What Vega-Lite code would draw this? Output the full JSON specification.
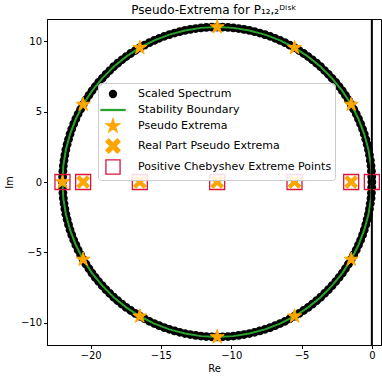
{
  "$schema": "https://vega.github.io/schema/vega-lite/v6.json",
  "width": 334,
  "height": 326,
  "autosize": {"type": "none"},
  "padding": {"left": 47, "top": 19, "right": 1, "bottom": 35},
  "title": {"text": "Pseudo-Extrema for P₁₂,₂ᴰⁱˢᵏ", "fontSize": 12, "fontWeight": "normal", "font": "DejaVu Sans", "offset": 1, "color": "black"},
  "config": {
    "font": "DejaVu Sans",
    "view": {"stroke": "black", "strokeWidth": 1},
    "axis": {"labelFont": "DejaVu Sans", "titleFont": "DejaVu Sans", "labelFontSize": 10, "titleFontSize": 10, "titleFontWeight": "normal", "labelColor": "black", "titleColor": "black", "domainColor": "black", "tickColor": "black", "tickSize": 3.5, "gridColor": "#dddddd", "gridWidth": 1, "labelPadding": 2},
    "legend": {"orient": "none", "legendX": 51, "legendY": 64, "padding": 3, "fillColor": "rgba(255,255,255,0.85)", "strokeColor": "#cccccc", "cornerRadius": 3, "labelFont": "DejaVu Sans", "labelFontSize": 11, "labelColor": "black", "symbolSize": 200, "symbolOffset": 4, "labelOffset": 17, "rowPadding": 1, "symbolStrokeWidth": 1.3, "labelLimit": 300}
  },
  "datasets": {
    "spectrum": [
      {"series":"Scaled Spectrum","x":0,"y":0},{"series":"Scaled Spectrum","x":-0.01,"y":0.38},{"series":"Scaled Spectrum","x":-0.03,"y":0.77},{"series":"Scaled Spectrum","x":-0.06,"y":1.15},{"series":"Scaled Spectrum","x":-0.11,"y":1.53},{"series":"Scaled Spectrum","x":-0.17,"y":1.91},{"series":"Scaled Spectrum","x":-0.24,"y":2.29},{"series":"Scaled Spectrum","x":-0.33,"y":2.66},{"series":"Scaled Spectrum","x":-0.43,"y":3.03},{"series":"Scaled Spectrum","x":-0.54,"y":3.4},{"series":"Scaled Spectrum","x":-0.66,"y":3.76},{"series":"Scaled Spectrum","x":-0.8,"y":4.12},{"series":"Scaled Spectrum","x":-0.95,"y":4.47},{"series":"Scaled Spectrum","x":-1.11,"y":4.82},{"series":"Scaled Spectrum","x":-1.29,"y":5.16},{"series":"Scaled Spectrum","x":-1.47,"y":5.5},{"series":"Scaled Spectrum","x":-1.67,"y":5.83},{"series":"Scaled Spectrum","x":-1.88,"y":6.15},{"series":"Scaled Spectrum","x":-2.1,"y":6.47},{"series":"Scaled Spectrum","x":-2.33,"y":6.77},{"series":"Scaled Spectrum","x":-2.57,"y":7.07},{"series":"Scaled Spectrum","x":-2.83,"y":7.36},{"series":"Scaled Spectrum","x":-3.09,"y":7.64},{"series":"Scaled Spectrum","x":-3.36,"y":7.91},{"series":"Scaled Spectrum","x":-3.64,"y":8.18},{"series":"Scaled Spectrum","x":-3.93,"y":8.43},{"series":"Scaled Spectrum","x":-4.23,"y":8.67},{"series":"Scaled Spectrum","x":-4.53,"y":8.9},{"series":"Scaled Spectrum","x":-4.85,"y":9.12},{"series":"Scaled Spectrum","x":-5.17,"y":9.33},{"series":"Scaled Spectrum","x":-5.5,"y":9.53},{"series":"Scaled Spectrum","x":-5.84,"y":9.71},{"series":"Scaled Spectrum","x":-6.18,"y":9.89},{"series":"Scaled Spectrum","x":-6.53,"y":10.05},{"series":"Scaled Spectrum","x":-6.88,"y":10.2},{"series":"Scaled Spectrum","x":-7.24,"y":10.34},{"series":"Scaled Spectrum","x":-7.6,"y":10.46},{"series":"Scaled Spectrum","x":-7.97,"y":10.57},{"series":"Scaled Spectrum","x":-8.34,"y":10.67},{"series":"Scaled Spectrum","x":-8.71,"y":10.76},{"series":"Scaled Spectrum","x":-9.09,"y":10.83},{"series":"Scaled Spectrum","x":-9.47,"y":10.89},{"series":"Scaled Spectrum","x":-9.85,"y":10.94},{"series":"Scaled Spectrum","x":-10.23,"y":10.97},{"series":"Scaled Spectrum","x":-10.62,"y":10.99},
      {"series":"Scaled Spectrum","x":-11,"y":11},{"series":"Scaled Spectrum","x":-11.38,"y":10.99},{"series":"Scaled Spectrum","x":-11.77,"y":10.97},{"series":"Scaled Spectrum","x":-12.15,"y":10.94},{"series":"Scaled Spectrum","x":-12.53,"y":10.89},{"series":"Scaled Spectrum","x":-12.91,"y":10.83},{"series":"Scaled Spectrum","x":-13.29,"y":10.76},{"series":"Scaled Spectrum","x":-13.66,"y":10.67},{"series":"Scaled Spectrum","x":-14.03,"y":10.57},{"series":"Scaled Spectrum","x":-14.4,"y":10.46},{"series":"Scaled Spectrum","x":-14.76,"y":10.34},{"series":"Scaled Spectrum","x":-15.12,"y":10.2},{"series":"Scaled Spectrum","x":-15.47,"y":10.05},{"series":"Scaled Spectrum","x":-15.82,"y":9.89},{"series":"Scaled Spectrum","x":-16.16,"y":9.71},{"series":"Scaled Spectrum","x":-16.5,"y":9.53},{"series":"Scaled Spectrum","x":-16.83,"y":9.33},{"series":"Scaled Spectrum","x":-17.15,"y":9.12},{"series":"Scaled Spectrum","x":-17.47,"y":8.9},{"series":"Scaled Spectrum","x":-17.77,"y":8.67},{"series":"Scaled Spectrum","x":-18.07,"y":8.43},{"series":"Scaled Spectrum","x":-18.36,"y":8.18},{"series":"Scaled Spectrum","x":-18.64,"y":7.91},{"series":"Scaled Spectrum","x":-18.91,"y":7.64},{"series":"Scaled Spectrum","x":-19.17,"y":7.36},{"series":"Scaled Spectrum","x":-19.43,"y":7.07},{"series":"Scaled Spectrum","x":-19.67,"y":6.77},{"series":"Scaled Spectrum","x":-19.9,"y":6.47},{"series":"Scaled Spectrum","x":-20.12,"y":6.15},{"series":"Scaled Spectrum","x":-20.33,"y":5.83},{"series":"Scaled Spectrum","x":-20.53,"y":5.5},{"series":"Scaled Spectrum","x":-20.71,"y":5.16},{"series":"Scaled Spectrum","x":-20.89,"y":4.82},{"series":"Scaled Spectrum","x":-21.05,"y":4.47},{"series":"Scaled Spectrum","x":-21.2,"y":4.12},{"series":"Scaled Spectrum","x":-21.34,"y":3.76},{"series":"Scaled Spectrum","x":-21.46,"y":3.4},{"series":"Scaled Spectrum","x":-21.57,"y":3.03},{"series":"Scaled Spectrum","x":-21.67,"y":2.66},{"series":"Scaled Spectrum","x":-21.76,"y":2.29},{"series":"Scaled Spectrum","x":-21.83,"y":1.91},{"series":"Scaled Spectrum","x":-21.89,"y":1.53},{"series":"Scaled Spectrum","x":-21.94,"y":1.15},{"series":"Scaled Spectrum","x":-21.97,"y":0.77},{"series":"Scaled Spectrum","x":-21.99,"y":0.38},
      {"series":"Scaled Spectrum","x":-22,"y":0},
      {"series":"Scaled Spectrum","x":-0.01,"y":-0.38},{"series":"Scaled Spectrum","x":-0.03,"y":-0.77},{"series":"Scaled Spectrum","x":-0.06,"y":-1.15},{"series":"Scaled Spectrum","x":-0.11,"y":-1.53},{"series":"Scaled Spectrum","x":-0.17,"y":-1.91},{"series":"Scaled Spectrum","x":-0.24,"y":-2.29},{"series":"Scaled Spectrum","x":-0.33,"y":-2.66},{"series":"Scaled Spectrum","x":-0.43,"y":-3.03},{"series":"Scaled Spectrum","x":-0.54,"y":-3.4},{"series":"Scaled Spectrum","x":-0.66,"y":-3.76},{"series":"Scaled Spectrum","x":-0.8,"y":-4.12},{"series":"Scaled Spectrum","x":-0.95,"y":-4.47},{"series":"Scaled Spectrum","x":-1.11,"y":-4.82},{"series":"Scaled Spectrum","x":-1.29,"y":-5.16},{"series":"Scaled Spectrum","x":-1.47,"y":-5.5},{"series":"Scaled Spectrum","x":-1.67,"y":-5.83},{"series":"Scaled Spectrum","x":-1.88,"y":-6.15},{"series":"Scaled Spectrum","x":-2.1,"y":-6.47},{"series":"Scaled Spectrum","x":-2.33,"y":-6.77},{"series":"Scaled Spectrum","x":-2.57,"y":-7.07},{"series":"Scaled Spectrum","x":-2.83,"y":-7.36},{"series":"Scaled Spectrum","x":-3.09,"y":-7.64},{"series":"Scaled Spectrum","x":-3.36,"y":-7.91},{"series":"Scaled Spectrum","x":-3.64,"y":-8.18},{"series":"Scaled Spectrum","x":-3.93,"y":-8.43},{"series":"Scaled Spectrum","x":-4.23,"y":-8.67},{"series":"Scaled Spectrum","x":-4.53,"y":-8.9},{"series":"Scaled Spectrum","x":-4.85,"y":-9.12},{"series":"Scaled Spectrum","x":-5.17,"y":-9.33},{"series":"Scaled Spectrum","x":-5.5,"y":-9.53},{"series":"Scaled Spectrum","x":-5.84,"y":-9.71},{"series":"Scaled Spectrum","x":-6.18,"y":-9.89},{"series":"Scaled Spectrum","x":-6.53,"y":-10.05},{"series":"Scaled Spectrum","x":-6.88,"y":-10.2},{"series":"Scaled Spectrum","x":-7.24,"y":-10.34},{"series":"Scaled Spectrum","x":-7.6,"y":-10.46},{"series":"Scaled Spectrum","x":-7.97,"y":-10.57},{"series":"Scaled Spectrum","x":-8.34,"y":-10.67},{"series":"Scaled Spectrum","x":-8.71,"y":-10.76},{"series":"Scaled Spectrum","x":-9.09,"y":-10.83},{"series":"Scaled Spectrum","x":-9.47,"y":-10.89},{"series":"Scaled Spectrum","x":-9.85,"y":-10.94},{"series":"Scaled Spectrum","x":-10.23,"y":-10.97},{"series":"Scaled Spectrum","x":-10.62,"y":-10.99},
      {"series":"Scaled Spectrum","x":-11,"y":-11},{"series":"Scaled Spectrum","x":-11.38,"y":-10.99},{"series":"Scaled Spectrum","x":-11.77,"y":-10.97},{"series":"Scaled Spectrum","x":-12.15,"y":-10.94},{"series":"Scaled Spectrum","x":-12.53,"y":-10.89},{"series":"Scaled Spectrum","x":-12.91,"y":-10.83},{"series":"Scaled Spectrum","x":-13.29,"y":-10.76},{"series":"Scaled Spectrum","x":-13.66,"y":-10.67},{"series":"Scaled Spectrum","x":-14.03,"y":-10.57},{"series":"Scaled Spectrum","x":-14.4,"y":-10.46},{"series":"Scaled Spectrum","x":-14.76,"y":-10.34},{"series":"Scaled Spectrum","x":-15.12,"y":-10.2},{"series":"Scaled Spectrum","x":-15.47,"y":-10.05},{"series":"Scaled Spectrum","x":-15.82,"y":-9.89},{"series":"Scaled Spectrum","x":-16.16,"y":-9.71},{"series":"Scaled Spectrum","x":-16.5,"y":-9.53},{"series":"Scaled Spectrum","x":-16.83,"y":-9.33},{"series":"Scaled Spectrum","x":-17.15,"y":-9.12},{"series":"Scaled Spectrum","x":-17.47,"y":-8.9},{"series":"Scaled Spectrum","x":-17.77,"y":-8.67},{"series":"Scaled Spectrum","x":-18.07,"y":-8.43},{"series":"Scaled Spectrum","x":-18.36,"y":-8.18},{"series":"Scaled Spectrum","x":-18.64,"y":-7.91},{"series":"Scaled Spectrum","x":-18.91,"y":-7.64},{"series":"Scaled Spectrum","x":-19.17,"y":-7.36},{"series":"Scaled Spectrum","x":-19.43,"y":-7.07},{"series":"Scaled Spectrum","x":-19.67,"y":-6.77},{"series":"Scaled Spectrum","x":-19.9,"y":-6.47},{"series":"Scaled Spectrum","x":-20.12,"y":-6.15},{"series":"Scaled Spectrum","x":-20.33,"y":-5.83},{"series":"Scaled Spectrum","x":-20.53,"y":-5.5},{"series":"Scaled Spectrum","x":-20.71,"y":-5.16},{"series":"Scaled Spectrum","x":-20.89,"y":-4.82},{"series":"Scaled Spectrum","x":-21.05,"y":-4.47},{"series":"Scaled Spectrum","x":-21.2,"y":-4.12},{"series":"Scaled Spectrum","x":-21.34,"y":-3.76},{"series":"Scaled Spectrum","x":-21.46,"y":-3.4},{"series":"Scaled Spectrum","x":-21.57,"y":-3.03},{"series":"Scaled Spectrum","x":-21.67,"y":-2.66},{"series":"Scaled Spectrum","x":-21.76,"y":-2.29},{"series":"Scaled Spectrum","x":-21.83,"y":-1.91},{"series":"Scaled Spectrum","x":-21.89,"y":-1.53},{"series":"Scaled Spectrum","x":-21.94,"y":-1.15},{"series":"Scaled Spectrum","x":-21.97,"y":-0.77},{"series":"Scaled Spectrum","x":-21.99,"y":-0.38}
    ],
    "boundary": [
      {"series":"Stability Boundary","t":0,"x":0,"y":0},{"series":"Stability Boundary","t":6,"x":-0.06,"y":1.15},{"series":"Stability Boundary","t":12,"x":-0.24,"y":2.29},{"series":"Stability Boundary","t":18,"x":-0.54,"y":3.4},{"series":"Stability Boundary","t":24,"x":-0.95,"y":4.47},{"series":"Stability Boundary","t":30,"x":-1.47,"y":5.5},{"series":"Stability Boundary","t":36,"x":-2.1,"y":6.47},{"series":"Stability Boundary","t":42,"x":-2.83,"y":7.36},{"series":"Stability Boundary","t":48,"x":-3.64,"y":8.18},{"series":"Stability Boundary","t":54,"x":-4.53,"y":8.9},{"series":"Stability Boundary","t":60,"x":-5.5,"y":9.53},{"series":"Stability Boundary","t":66,"x":-6.53,"y":10.05},{"series":"Stability Boundary","t":72,"x":-7.6,"y":10.46},{"series":"Stability Boundary","t":78,"x":-8.71,"y":10.76},{"series":"Stability Boundary","t":84,"x":-9.85,"y":10.94},{"series":"Stability Boundary","t":90,"x":-11,"y":11},{"series":"Stability Boundary","t":96,"x":-12.15,"y":10.94},{"series":"Stability Boundary","t":102,"x":-13.29,"y":10.76},{"series":"Stability Boundary","t":108,"x":-14.4,"y":10.46},{"series":"Stability Boundary","t":114,"x":-15.47,"y":10.05},{"series":"Stability Boundary","t":120,"x":-16.5,"y":9.53},{"series":"Stability Boundary","t":126,"x":-17.47,"y":8.9},{"series":"Stability Boundary","t":132,"x":-18.36,"y":8.18},{"series":"Stability Boundary","t":138,"x":-19.17,"y":7.36},{"series":"Stability Boundary","t":144,"x":-19.9,"y":6.47},{"series":"Stability Boundary","t":150,"x":-20.53,"y":5.5},{"series":"Stability Boundary","t":156,"x":-21.05,"y":4.47},{"series":"Stability Boundary","t":162,"x":-21.46,"y":3.4},{"series":"Stability Boundary","t":168,"x":-21.76,"y":2.29},{"series":"Stability Boundary","t":174,"x":-21.94,"y":1.15},{"series":"Stability Boundary","t":180,"x":-22,"y":0},{"series":"Stability Boundary","t":186,"x":-21.94,"y":-1.15},{"series":"Stability Boundary","t":192,"x":-21.76,"y":-2.29},{"series":"Stability Boundary","t":198,"x":-21.46,"y":-3.4},{"series":"Stability Boundary","t":204,"x":-21.05,"y":-4.47},{"series":"Stability Boundary","t":210,"x":-20.53,"y":-5.5},{"series":"Stability Boundary","t":216,"x":-19.9,"y":-6.47},{"series":"Stability Boundary","t":222,"x":-19.17,"y":-7.36},{"series":"Stability Boundary","t":228,"x":-18.36,"y":-8.18},{"series":"Stability Boundary","t":234,"x":-17.47,"y":-8.9},{"series":"Stability Boundary","t":240,"x":-16.5,"y":-9.53},{"series":"Stability Boundary","t":246,"x":-15.47,"y":-10.05},{"series":"Stability Boundary","t":252,"x":-14.4,"y":-10.46},{"series":"Stability Boundary","t":258,"x":-13.29,"y":-10.76},{"series":"Stability Boundary","t":264,"x":-12.15,"y":-10.94},{"series":"Stability Boundary","t":270,"x":-11,"y":-11},{"series":"Stability Boundary","t":276,"x":-9.85,"y":-10.94},{"series":"Stability Boundary","t":282,"x":-8.71,"y":-10.76},{"series":"Stability Boundary","t":288,"x":-7.6,"y":-10.46},{"series":"Stability Boundary","t":294,"x":-6.53,"y":-10.05},{"series":"Stability Boundary","t":300,"x":-5.5,"y":-9.53},{"series":"Stability Boundary","t":306,"x":-4.53,"y":-8.9},{"series":"Stability Boundary","t":312,"x":-3.64,"y":-8.18},{"series":"Stability Boundary","t":318,"x":-2.83,"y":-7.36},{"series":"Stability Boundary","t":324,"x":-2.1,"y":-6.47},{"series":"Stability Boundary","t":330,"x":-1.47,"y":-5.5},{"series":"Stability Boundary","t":336,"x":-0.95,"y":-4.47},{"series":"Stability Boundary","t":342,"x":-0.54,"y":-3.4},{"series":"Stability Boundary","t":348,"x":-0.24,"y":-2.29},{"series":"Stability Boundary","t":354,"x":-0.06,"y":-1.15},{"series":"Stability Boundary","t":360,"x":0,"y":0}
    ],
    "stars": [
      {"series":"Pseudo Extrema","x":-1.47,"y":5.5},{"series":"Pseudo Extrema","x":-5.5,"y":9.53},{"series":"Pseudo Extrema","x":-11,"y":11},{"series":"Pseudo Extrema","x":-16.5,"y":9.53},{"series":"Pseudo Extrema","x":-20.53,"y":5.5},{"series":"Pseudo Extrema","x":-22,"y":0},{"series":"Pseudo Extrema","x":-20.53,"y":-5.5},{"series":"Pseudo Extrema","x":-16.5,"y":-9.53},{"series":"Pseudo Extrema","x":-11,"y":-11},{"series":"Pseudo Extrema","x":-5.5,"y":-9.53},{"series":"Pseudo Extrema","x":-1.47,"y":-5.5}
    ],
    "realpart": [
      {"series":"Real Part Pseudo Extrema","x":-1.47,"y":0},{"series":"Real Part Pseudo Extrema","x":-5.5,"y":0},{"series":"Real Part Pseudo Extrema","x":-11,"y":0},{"series":"Real Part Pseudo Extrema","x":-16.5,"y":0},{"series":"Real Part Pseudo Extrema","x":-20.53,"y":0}
    ],
    "cheb": [
      {"series":"Positive Chebyshev Extreme Points","x":0,"y":0},{"series":"Positive Chebyshev Extreme Points","x":-1.47,"y":0},{"series":"Positive Chebyshev Extreme Points","x":-5.5,"y":0},{"series":"Positive Chebyshev Extreme Points","x":-11,"y":0},{"series":"Positive Chebyshev Extreme Points","x":-16.5,"y":0},{"series":"Positive Chebyshev Extreme Points","x":-20.53,"y":0},{"series":"Positive Chebyshev Extreme Points","x":-22,"y":0}
    ]
  },
  "layer": [
    {
      "data": {"values": [{}]},
      "mark": {"type": "rule", "color": "black", "strokeWidth": 1.3},
      "encoding": {
        "y": {"datum": 0, "type": "quantitative", "scale": {"domain": [-11.57, 11.57], "nice": false, "zero": false}, "axis": {"title": "Im", "values": [-10, -5, 0, 5, 10], "titlePadding": 6}},
        "x": {"datum": 0, "type": "quantitative", "scale": {"domain": [-23.1, 0.65], "nice": false, "zero": false}, "axis": {"title": "Re", "values": [-20, -15, -10, -5, 0], "titlePadding": 3}}
      }
    },
    {
      "data": {"name": "spectrum"},
      "mark": {"type": "point", "filled": true, "opacity": 1, "strokeWidth": 0, "size": 310},
      "encoding": {
        "x": {"field": "x", "type": "quantitative"},
        "y": {"field": "y", "type": "quantitative"},
        "fill": {"field": "series", "type": "nominal", "legend": {"title": null}, "scale": {"domain": ["Scaled Spectrum", "Stability Boundary", "Pseudo Extrema", "Real Part Pseudo Extrema", "Positive Chebyshev Extreme Points"], "range": ["black", "#2ca02c", "orange", "orange", "transparent"]}},
        "stroke": {"field": "series", "type": "nominal", "legend": {"title": null}, "scale": {"domain": ["Scaled Spectrum", "Stability Boundary", "Pseudo Extrema", "Real Part Pseudo Extrema", "Positive Chebyshev Extreme Points"], "range": ["black", "#2ca02c", "orange", "orange", "crimson"]}},
        "shape": {"field": "series", "type": "nominal", "legend": {"title": null}, "scale": {"domain": ["Scaled Spectrum", "Stability Boundary", "Pseudo Extrema", "Real Part Pseudo Extrema", "Positive Chebyshev Extreme Points"], "range": ["M0.5,0A0.5,0.5,0,1,1,-0.5,0A0.5,0.5,0,1,1,0.5,0Z", "M-1.7,-0.07L1.7,-0.07L1.7,0.07L-1.7,0.07Z", "M0,-1L0.2245,-0.309L0.951,-0.309L0.363,0.118L0.588,0.809L0,0.382L-0.588,0.809L-0.363,0.118L-0.951,-0.309L-0.2245,-0.309Z", "M-1,-0.6L-0.6,-1L0,-0.4L0.6,-1L1,-0.6L0.4,0L1,0.6L0.6,1L0,0.4L-0.6,1L-1,0.6L-0.4,0Z", "square"]}}
      }
    },
    {
      "data": {"name": "boundary"},
      "mark": {"type": "line", "strokeWidth": 2},
      "encoding": {
        "x": {"field": "x", "type": "quantitative"},
        "y": {"field": "y", "type": "quantitative"},
        "order": {"field": "t", "type": "quantitative"},
        "stroke": {"field": "series", "type": "nominal", "legend": {"title": null}}
      }
    },
    {
      "data": {"name": "stars"},
      "mark": {"type": "point", "filled": true, "opacity": 1, "strokeWidth": 1, "size": 220},
      "encoding": {
        "x": {"field": "x", "type": "quantitative"},
        "y": {"field": "y", "type": "quantitative"},
        "fill": {"field": "series", "type": "nominal", "legend": {"title": null}},
        "stroke": {"field": "series", "type": "nominal", "legend": {"title": null}},
        "shape": {"field": "series", "type": "nominal", "legend": {"title": null}}
      }
    },
    {
      "data": {"name": "realpart"},
      "mark": {"type": "point", "filled": true, "opacity": 1, "strokeWidth": 1, "size": 160},
      "encoding": {
        "x": {"field": "x", "type": "quantitative"},
        "y": {"field": "y", "type": "quantitative"},
        "fill": {"field": "series", "type": "nominal", "legend": {"title": null}},
        "stroke": {"field": "series", "type": "nominal", "legend": {"title": null}},
        "shape": {"field": "series", "type": "nominal", "legend": {"title": null}}
      }
    },
    {
      "data": {"name": "cheb"},
      "mark": {"type": "point", "filled": true, "opacity": 1, "strokeWidth": 1.3, "size": 225},
      "encoding": {
        "x": {"field": "x", "type": "quantitative"},
        "y": {"field": "y", "type": "quantitative"},
        "fill": {"field": "series", "type": "nominal", "legend": {"title": null}},
        "stroke": {"field": "series", "type": "nominal", "legend": {"title": null}},
        "shape": {"field": "series", "type": "nominal", "legend": {"title": null}}
      }
    },
    {
      "data": {"values": [{}]},
      "mark": {"type": "rule", "color": "black", "strokeWidth": 2},
      "encoding": {
        "x": {"datum": 0, "type": "quantitative"}
      }
    }
  ]
}
